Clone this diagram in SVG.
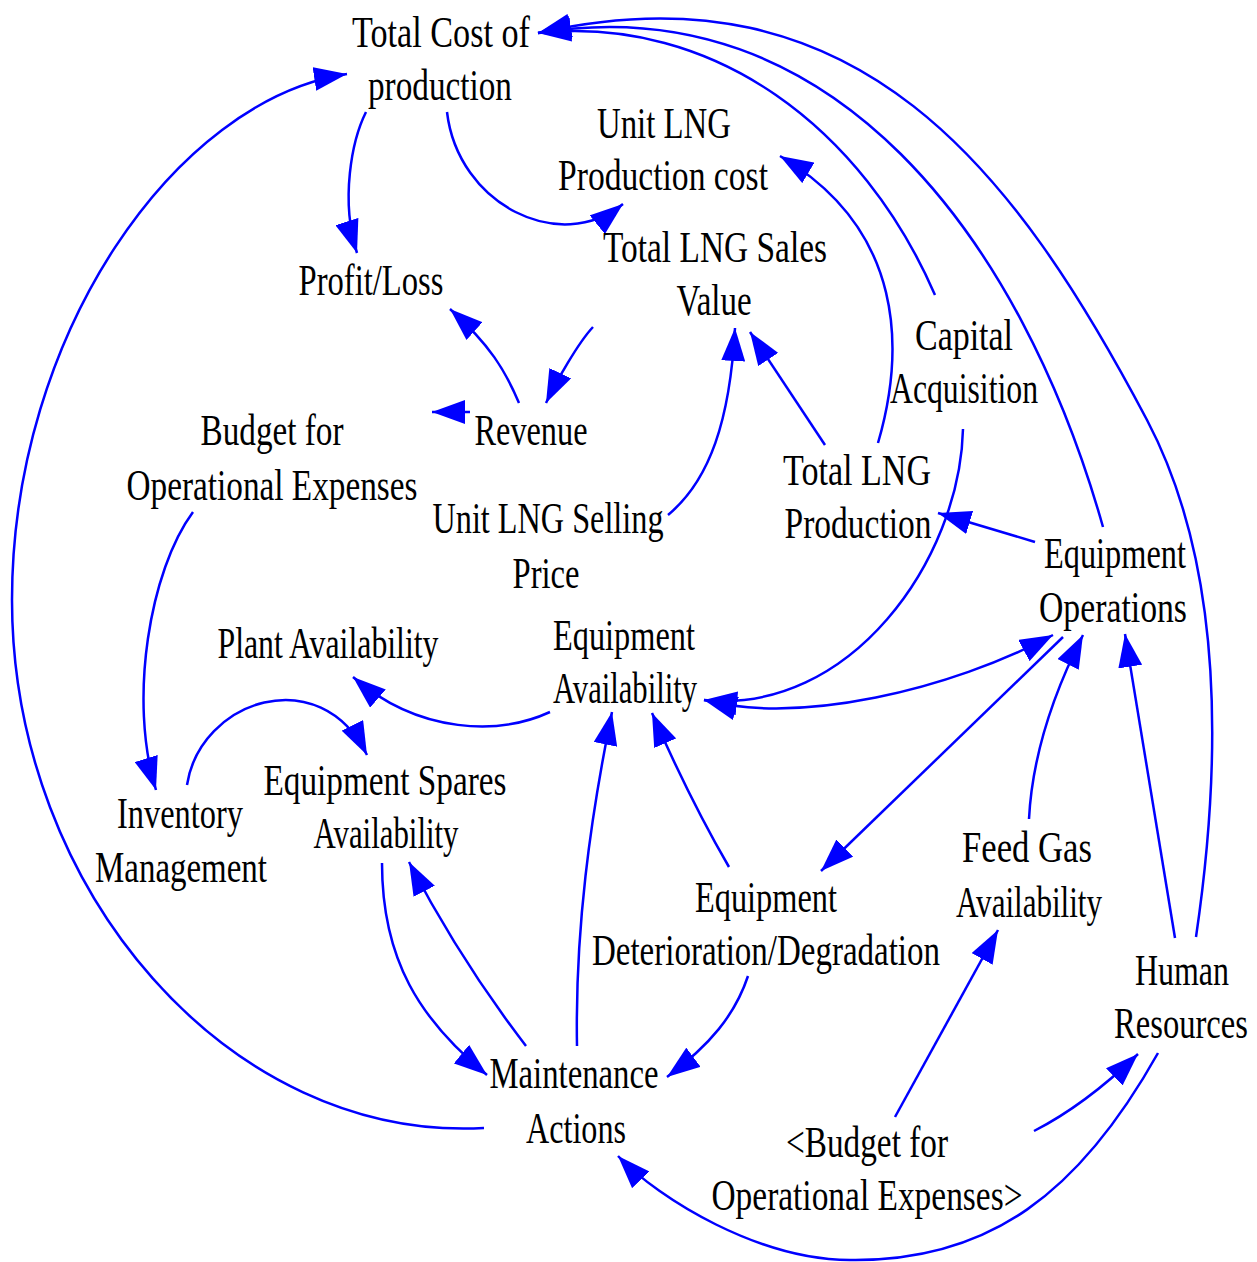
<svg xmlns="http://www.w3.org/2000/svg" width="1257" height="1262" viewBox="0 0 1257 1262">
  <defs>
    <style>
      .lbl { font-family: 'Liberation Serif', 'Times New Roman', 'DejaVu Serif', serif; font-size: 44px; fill: #000000; text-anchor: middle; }
      .link { fill: none; stroke: #0000ff; stroke-width: 2.5; marker-end: url(#head); }
      .both { marker-start: url(#headStart); }
    </style>
    <marker id="head" viewBox="0 0 33 24" refX="33" refY="12" markerWidth="33" markerHeight="24" markerUnits="userSpaceOnUse" orient="auto">
      <path d="M0,0 L33,12 L0,24 Z" fill="#0000ff"/>
    </marker>
    <marker id="headStart" viewBox="0 0 33 24" refX="33" refY="12" markerWidth="33" markerHeight="24" markerUnits="userSpaceOnUse" orient="auto-start-reverse">
      <path d="M0,0 L33,12 L0,24 Z" fill="#0000ff"/>
    </marker>
  </defs>
  <rect width="1257" height="1262" fill="#ffffff"/>

  <!-- causal links -->
  <g id="links">
    <path class="link" d="M484,1128 C230,1142 12,891 12,600 C12,335 175,100 347,74"/>
    <path class="link" d="M366,112 C352,140 340,200 357,253"/>
    <path class="link" d="M447,112 C458,205 560,255 623,204"/>
    <path class="link" d="M668,515 C710,480 730,420 735,328"/>
    <path class="link" d="M825,445 L750,332"/>
    <path class="link" d="M593,327 C578,343 556,382 546,403"/>
    <path class="link" d="M519,403 C505,370 490,345 450,309"/>
    <path class="link" d="M470,412 L432,412"/>
    <path class="link" d="M193,512 C150,570 128,700 156,790"/>
    <path class="link" d="M187,785 C200,700 320,660 367,755"/>
    <path class="link" d="M550,712 C500,735 420,735 353,677"/>
    <path class="link" d="M878,443 C905,350 905,230 780,156"/>
    <path class="link" d="M963,429 C960,560 850,715 704,700"/>
    <path class="link both" d="M1053,635 C950,690 800,725 704,700"/>
    <path class="link" d="M1063,637 L821,871"/>
    <path class="link" d="M1029,819 C1032,760 1050,700 1083,635"/>
    <path class="link" d="M1175,938 Q1150,790 1125,634"/>
    <path class="link" d="M1035,542 L938,513"/>
    <path class="link" d="M729,867 Q690,800 652,713"/>
    <path class="link" d="M577,1046 C575,930 590,820 612,712"/>
    <path class="link" d="M382,863 C382,960 420,1020 487,1075"/>
    <path class="link" d="M526,1046 Q460,960 409,862"/>
    <path class="link" d="M748,976 C735,1015 710,1045 667,1077"/>
    <path class="link" d="M1158,1053 C1080,1192 990,1262 850,1260 C760,1260 660,1200 618,1156"/>
    <path class="link" d="M895,1117 L998,930"/>
    <path class="link" d="M1034,1131 Q1085,1105 1138,1054"/>
    <path class="link" d="M1196,937 C1221,767 1226,570 1147,420 C1016,172 858,-40 538,33"/>
    <path class="link" d="M1103,527 C1022,240 833,-16 538,33"/>
    <path class="link" d="M935,295 C863,129 715,15 538,33"/>
  </g>

  <!-- variables -->
  <g id="total-cost">
    <text class="lbl" x="441" y="47" textLength="178" lengthAdjust="spacingAndGlyphs">Total Cost of</text>
    <text class="lbl" x="440" y="100" textLength="144" lengthAdjust="spacingAndGlyphs">production</text>
  </g>
  <g id="unit-cost">
    <text class="lbl" x="664" y="138" textLength="134" lengthAdjust="spacingAndGlyphs">Unit LNG</text>
    <text class="lbl" x="663" y="190" textLength="210" lengthAdjust="spacingAndGlyphs">Production cost</text>
  </g>
  <g id="sales-value">
    <text class="lbl" x="715" y="262" textLength="224" lengthAdjust="spacingAndGlyphs">Total LNG Sales</text>
    <text class="lbl" x="714" y="315" textLength="75" lengthAdjust="spacingAndGlyphs">Value</text>
  </g>
  <g id="profit-loss">
    <text class="lbl" x="371" y="295" textLength="145" lengthAdjust="spacingAndGlyphs">Profit/Loss</text>
  </g>
  <g id="revenue">
    <text class="lbl" x="531" y="445" textLength="113" lengthAdjust="spacingAndGlyphs">Revenue</text>
  </g>
  <g id="budget">
    <text class="lbl" x="272" y="445" textLength="143" lengthAdjust="spacingAndGlyphs">Budget for</text>
    <text class="lbl" x="272" y="500" textLength="291" lengthAdjust="spacingAndGlyphs">Operational Expenses</text>
  </g>
  <g id="selling-price">
    <text class="lbl" x="548" y="533" textLength="231" lengthAdjust="spacingAndGlyphs">Unit LNG Selling</text>
    <text class="lbl" x="546" y="588" textLength="67" lengthAdjust="spacingAndGlyphs">Price</text>
  </g>
  <g id="capital">
    <text class="lbl" x="964" y="350" textLength="98" lengthAdjust="spacingAndGlyphs">Capital</text>
    <text class="lbl" x="964" y="403" textLength="148" lengthAdjust="spacingAndGlyphs">Acquisition</text>
  </g>
  <g id="total-production">
    <text class="lbl" x="857" y="485" textLength="148" lengthAdjust="spacingAndGlyphs">Total LNG</text>
    <text class="lbl" x="858" y="538" textLength="147" lengthAdjust="spacingAndGlyphs">Production</text>
  </g>
  <g id="equipment-operations">
    <text class="lbl" x="1115" y="568" textLength="142" lengthAdjust="spacingAndGlyphs">Equipment</text>
    <text class="lbl" x="1113" y="622" textLength="148" lengthAdjust="spacingAndGlyphs">Operations</text>
  </g>
  <g id="plant-availability">
    <text class="lbl" x="328" y="658" textLength="221" lengthAdjust="spacingAndGlyphs">Plant Availability</text>
  </g>
  <g id="equipment-availability">
    <text class="lbl" x="624" y="650" textLength="142" lengthAdjust="spacingAndGlyphs">Equipment</text>
    <text class="lbl" x="625" y="703" textLength="144" lengthAdjust="spacingAndGlyphs">Availability</text>
  </g>
  <g id="spares-availability">
    <text class="lbl" x="385" y="795" textLength="243" lengthAdjust="spacingAndGlyphs">Equipment Spares</text>
    <text class="lbl" x="386" y="848" textLength="145" lengthAdjust="spacingAndGlyphs">Availability</text>
  </g>
  <g id="inventory">
    <text class="lbl" x="180" y="828" textLength="126" lengthAdjust="spacingAndGlyphs">Inventory</text>
    <text class="lbl" x="181" y="882" textLength="172" lengthAdjust="spacingAndGlyphs">Management</text>
  </g>
  <g id="deterioration">
    <text class="lbl" x="766" y="912" textLength="142" lengthAdjust="spacingAndGlyphs">Equipment</text>
    <text class="lbl" x="766" y="965" textLength="348" lengthAdjust="spacingAndGlyphs">Deterioration/Degradation</text>
  </g>
  <g id="feed-gas">
    <text class="lbl" x="1027" y="862" textLength="130" lengthAdjust="spacingAndGlyphs">Feed Gas</text>
    <text class="lbl" x="1029" y="917" textLength="146" lengthAdjust="spacingAndGlyphs">Availability</text>
  </g>
  <g id="human-resources">
    <!-- condensed by a horizontal scale so the label fits against the right edge -->
    <text class="lbl" transform="translate(1182,0) scale(0.726,1)" x="0" y="985">Human</text>
    <text class="lbl" transform="translate(1181,0) scale(0.741,1)" x="0" y="1038">Resources</text>
  </g>
  <g id="maintenance">
    <text class="lbl" x="574" y="1088" textLength="169" lengthAdjust="spacingAndGlyphs">Maintenance</text>
    <text class="lbl" x="576" y="1143" textLength="100" lengthAdjust="spacingAndGlyphs">Actions</text>
  </g>
  <g id="budget-shadow">
    <text class="lbl" x="867" y="1157" textLength="162" lengthAdjust="spacingAndGlyphs">&lt;Budget for</text>
    <text class="lbl" x="867" y="1210" textLength="311" lengthAdjust="spacingAndGlyphs">Operational Expenses&gt;</text>
  </g>
</svg>
